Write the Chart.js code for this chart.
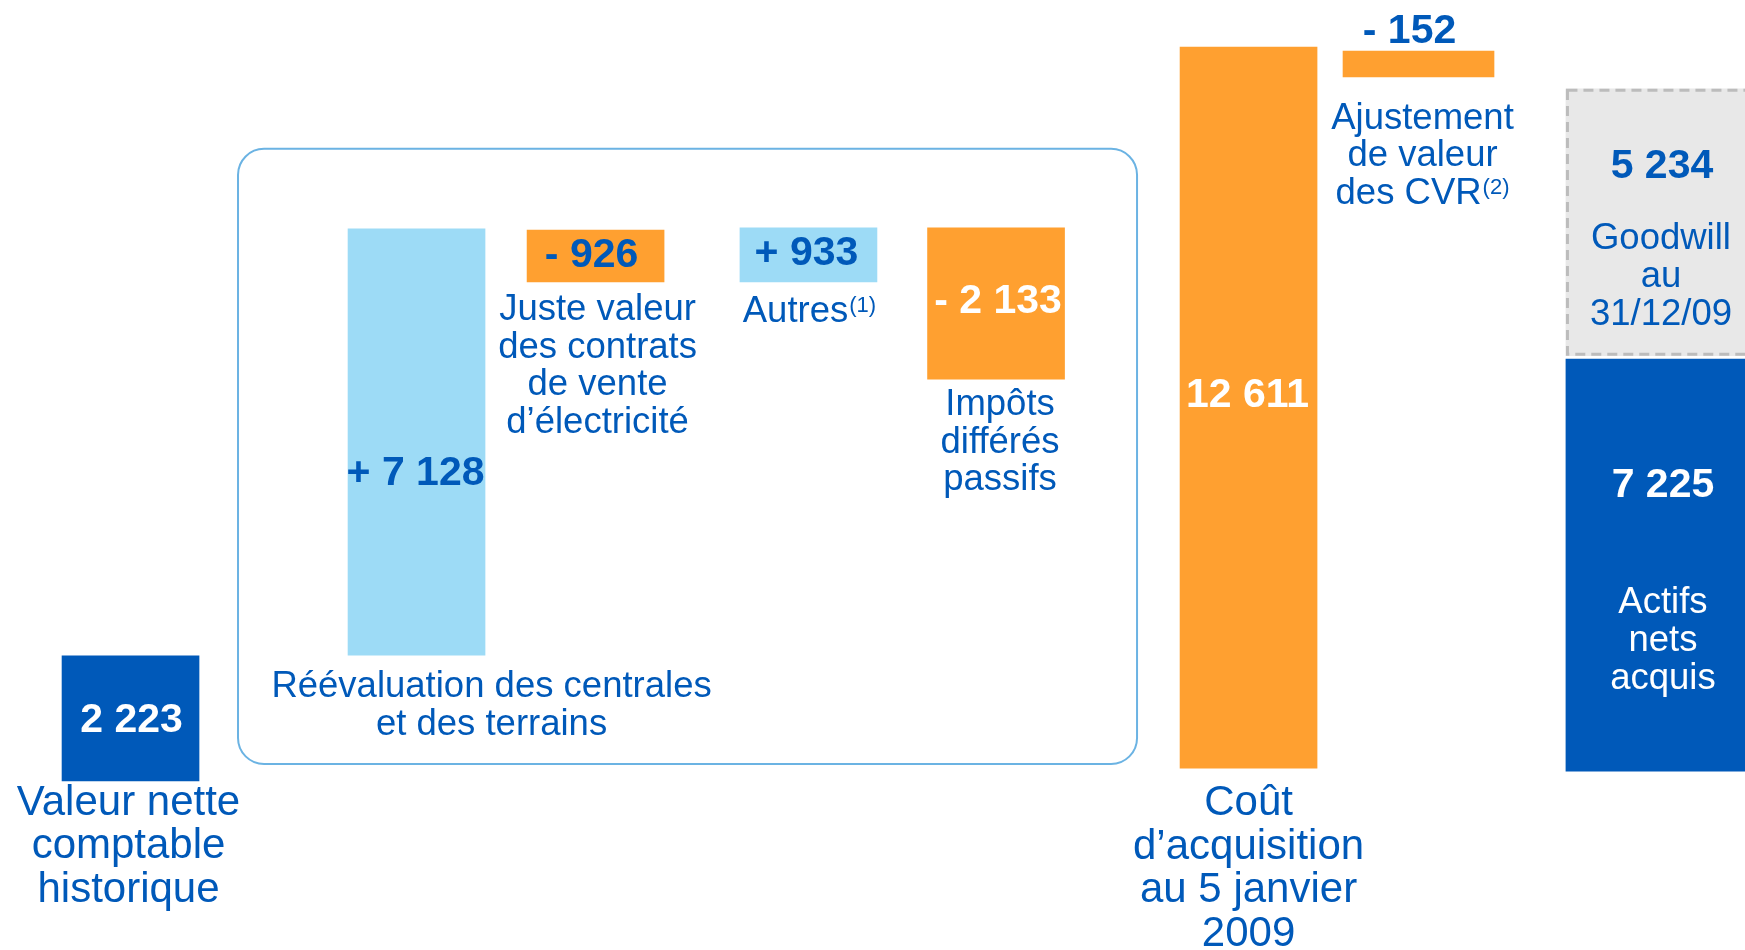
<!DOCTYPE html>
<html lang="fr">
<head>
<meta charset="utf-8">
<title>Coût d'acquisition et goodwill</title>
<script src="https://cdn.jsdelivr.net/npm/chart.js@4.4.1/dist/chart.umd.min.js"></script>
<style>
  html, body { margin: 0; padding: 0; background: #fff; }
  #wrap { width: 1745px; height: 950px; }
</style>
</head>
<body>
<div id="wrap"><canvas id="bridge" width="1745" height="950"></canvas></div>
<script>
// Amounts in M€, as printed on the slide
const amounts = [2223, 7128, -926, 933, -2133, 12611, -152, 5234, 7225];
const isStep = [false, true, true, true, true, false, true, false, false];
const labelLines = [
  ['Valeur nette', 'comptable', 'historique'],
  ['Réévaluation des centrales', 'et des terrains'],
  ['Juste valeur', 'des contrats', 'de vente', 'd’électricité'],
  ['Autres'],
  ['Impôts', 'différés', 'passifs'],
  ['Coût', 'd’acquisition', 'au 5 janvier', '2009'],
  ['Ajustement', 'de valeur', 'des CVR'],
  ['Goodwill', 'au', '31/12/09'],
  ['Actifs', 'nets', 'acquis']
];
const notes = ['', '', '', '(1)', '', '', '(2)', '', ''];

// Bar extents as drawn on the slide (the slide is not strictly to scale)
const barLow  = [-190, 2010, 8540, 8540, 6840, 30, 12130, 7250, -20];
const barHigh = [2000, 9470, 9450, 9490, 9490, 12650, 12580, 11920, 7190];

// ---- layout / styles ----
const DARK = '#0059b9', LIGHT = '#9ddbf6', ORANGE = '#ffa030', GREY = '#e8e8e8';
const BLUE_TXT = '#0059b9', WHITE = '#ffffff';
const FONT = '"Liberation Sans", Arial, Helvetica, sans-serif';

// x position of each bar, in % of the slide width
const slots = [
  { x: 7.48,  w: 137, fill: DARK,   val: { c: WHITE,    from: 'top', dy: 76,  dx: 1 },  lab: { from: 'bottom', dy: 34, dx: -2, size: 42, lh: 43.5, c: BLUE_TXT } },
  { x: 23.87, w: 137, fill: LIGHT,  val: { c: BLUE_TXT, from: 'top', dy: 256, dx: -1 }, lab: { from: 'bottom', dy: 42, dx: 75, size: 36.5, lh: 37.5, c: BLUE_TXT } },
  { x: 34.13, w: 137, fill: ORANGE, val: { c: BLUE_TXT, from: 'top', dy: 37,  dx: -4 }, lab: { from: 'bottom', dy: 38, dx: 2, size: 36.5, lh: 37.5, c: BLUE_TXT } },
  { x: 46.33, w: 137, fill: LIGHT,  val: { c: BLUE_TXT, from: 'top', dy: 37,  dx: -2 }, lab: { from: 'bottom', dy: 40, dx: 1, size: 36.5, lh: 37.5, c: BLUE_TXT } },
  { x: 57.08, w: 137, fill: ORANGE, val: { c: WHITE,    from: 'top', dy: 85,  dx: 2 },  lab: { from: 'bottom', dy: 36, dx: 4, size: 36.5, lh: 37.5, c: BLUE_TXT } },
  { x: 71.55, w: 137, fill: ORANGE, val: { c: WHITE,    from: 'top', dy: 360, dx: -1 }, lab: { from: 'bottom', dy: 47, dx: 0, size: 42, lh: 43.5, c: BLUE_TXT } },
  { x: 81.29, w: 151, fill: ORANGE, val: { c: BLUE_TXT, from: 'top', dy: -8,  dx: -9 }, lab: { from: 'bottom', dy: 52, dx: 4, size: 36.5, lh: 37.5, c: BLUE_TXT } },
  { x: 95.24, w: 192, fill: GREY,   val: { c: BLUE_TXT, from: 'top', dy: 89,  dx: 0 },  lab: { from: 'top', dy: 160, dx: -1, size: 36.5, lh: 38, c: BLUE_TXT } },
  { x: 95.24, w: 192, fill: DARK,   val: { c: WHITE,    from: 'top', dy: 138, dx: 1 },  lab: { from: 'top', dy: 254, dx: 1, size: 36.5, lh: 38, c: WHITE } }
];
// rounded frame around the revaluation steps (x in %, y in M€)
const frame = { x0: 13.64, x1: 65.16, y0: 10870, y1: 105, r: 26, color: '#6bb3e3' };

function fmt(n, signed) {
  const s = Math.abs(n).toString().replace(/\B(?=(\d{3})+(?!\d))/g, ' ');
  return signed ? (n < 0 ? '- ' : '+ ') + s : s;
}

// draw one centred line, with an optional superscript note
function drawLine(ctx, text, note, cx, baseline, size, bold, color) {
  const main = (bold ? 'bold ' : '') + size + 'px ' + FONT;
  const supSize = Math.round(size * 0.6);
  const sup = supSize + 'px ' + FONT;
  ctx.font = main;
  const w1 = ctx.measureText(text).width;
  ctx.font = sup;
  const w2 = note ? ctx.measureText(note).width + 1 : 0;
  const left = cx - (w1 + w2) / 2;
  ctx.fillStyle = color;
  ctx.textAlign = 'left';
  ctx.textBaseline = 'alphabetic';
  ctx.font = main;
  ctx.fillText(text, left, baseline);
  if (note) {
    ctx.font = sup;
    ctx.fillText(note, left + w1 + 1, baseline - size * 0.28);
  }
}

const overlay = {
  id: 'overlay',
  beforeDatasetsDraw(chart) {
    const { ctx, scales: { x, y } } = chart;
    const x0 = x.getPixelForValue(frame.x0), x1 = x.getPixelForValue(frame.x1);
    const y0 = y.getPixelForValue(frame.y0), y1 = y.getPixelForValue(frame.y1);
    ctx.save();
    ctx.strokeStyle = frame.color;
    ctx.lineWidth = 2;
    ctx.beginPath();
    ctx.roundRect(x0, y0, x1 - x0, y1 - y0, frame.r);
    ctx.stroke();
    ctx.restore();
  },
  afterDatasetsDraw(chart) {
    const ctx = chart.ctx;
    ctx.save();
    slots.forEach((s, i) => {
      const bar = chart.getDatasetMeta(i).data[0];
      const top = Math.min(bar.y, bar.base), bottom = Math.max(bar.y, bar.base);
      // dashed outline of the goodwill block
      if (i === 7) {
        ctx.save();
        ctx.strokeStyle = '#bcbcbc';
        ctx.lineWidth = 3;
        ctx.setLineDash([10, 6]);
        ctx.strokeRect(bar.x - bar.width / 2 + 1.5, top + 1.5, bar.width - 3, bottom - top - 3);
        ctx.restore();
      }
      const vb = (s.val.from === 'top' ? top : bottom) + s.val.dy;
      drawLine(ctx, fmt(amounts[i], isStep[i]), '', bar.x + s.val.dx, vb, 41, true, s.val.c);
      let lb = (s.lab.from === 'top' ? top : bottom) + s.lab.dy;
      const lines = labelLines[i];
      lines.forEach((t, k) => {
        const note = k === lines.length - 1 ? notes[i] : '';
        drawLine(ctx, t, note, bar.x + s.lab.dx, lb + k * s.lab.lh, s.lab.size, false, s.lab.c);
      });
    });
    ctx.restore();
  }
};

const datasets = slots.map((s, i) => ({
  label: labelLines[i].join(' '),
  data: [{ x: s.x, y: [barLow[i], barHigh[i]] }],
  backgroundColor: s.fill,
  borderWidth: 0,
  barThickness: s.w,
  grouped: false
}));

new Chart(document.getElementById('bridge'), {
  type: 'bar',
  data: { datasets },
  options: {
    responsive: false,
    animation: false,
    layout: { padding: 0 },
    plugins: { legend: { display: false }, tooltip: { enabled: false } },
    scales: {
      x: { type: 'linear', min: 0, max: 100, offset: false, display: false },
      y: { min: -3150, max: 13475, display: false }
    }
  },
  plugins: [overlay]
});
</script>
</body>
</html>
